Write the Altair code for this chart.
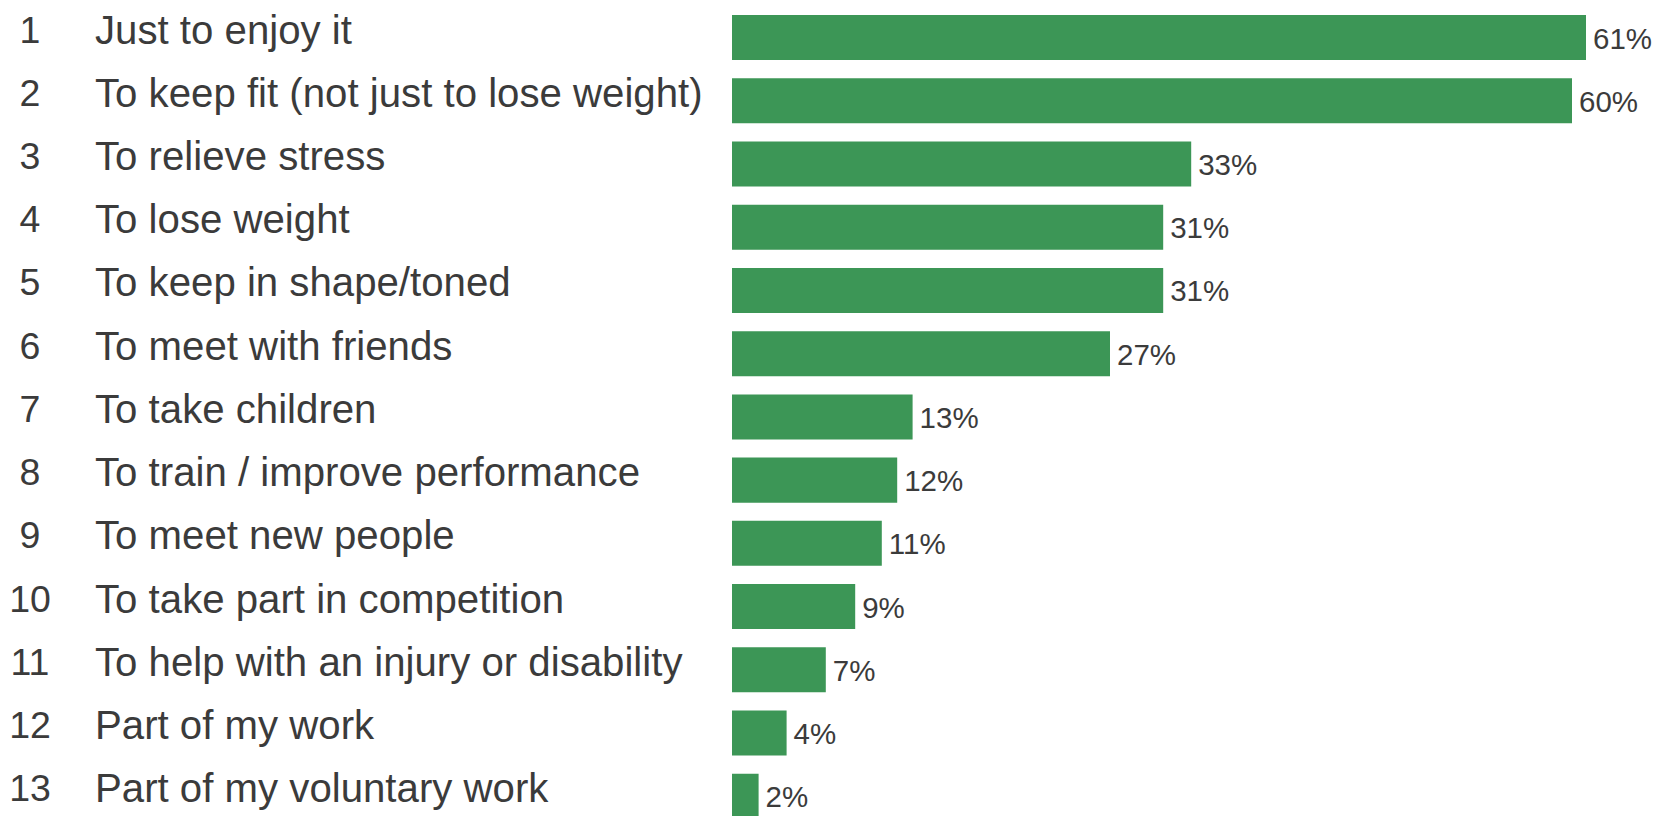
import altair as alt
import pandas as pd

ranks = [1, 2, 3, 4, 5, 6, 7, 8, 9, 10, 11, 12, 13]
reasons = [
    "Just to enjoy it",
    "To keep fit (not just to lose weight)",
    "To relieve stress",
    "To lose weight",
    "To keep in shape/toned",
    "To meet with friends",
    "To take children",
    "To train / improve performance",
    "To meet new people",
    "To take part in competition",
    "To help with an injury or disability",
    "Part of my work",
    "Part of my voluntary work",
]
values = [61.0, 60.0, 32.8, 30.8, 30.8, 27.0, 12.9, 11.8, 10.7, 8.8, 6.7, 3.9, 1.9]

df = pd.DataFrame({"rank": ranks, "reason": reasons, "value": values})

FONT = "Liberation Sans"
TXT = "#3b3b3b"

base = alt.Chart(df).transform_calculate(
    label="format(datum.value, '.0f') + '%'"
).encode(
    y=alt.Y(
        "reason:N",
        sort=reasons,
        axis=None,
        scale=alt.Scale(paddingInner=0.288, paddingOuter=0),
    )
)

xs = alt.X("value:Q", scale=alt.Scale(domain=[0, 66]), axis=None)

bars = base.mark_bar(color="#3C9656").encode(x=xs)

pct = base.mark_text(
    align="left", baseline="middle", dx=7, dy=2, fontSize=29.5, font=FONT, color=TXT
).encode(x=xs, text="label:N")

nums = base.mark_text(
    align="center", baseline="middle", dy=-6, fontSize=37.5, font=FONT, color=TXT
).encode(x=alt.value(-702), text="rank:N")

labels = base.mark_text(
    align="left", baseline="middle", dy=-6, fontSize=40.2, font=FONT, color=TXT
).encode(x=alt.value(-637), text="reason:N")

chart = (
    alt.layer(bars, pct, nums, labels)
    .properties(
        width=924,
        height=803.8,
        padding={"left": 1, "top": 3, "right": 0, "bottom": 0},
        background="white",
    )
    .configure_view(stroke=None)
)

chart.save("out.html", embed_options={"renderer": "svg", "actions": False})
